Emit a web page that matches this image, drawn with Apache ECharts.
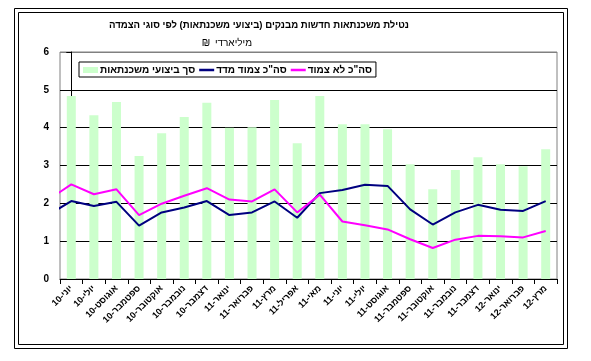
<!DOCTYPE html>
<html><head><meta charset="utf-8">
<script src="https://cdn.jsdelivr.net/npm/echarts@6/dist/echarts.min.js"></script>
<style>html,body{margin:0;padding:0;background:#fff}#c{width:591px;height:361px}</style>
</head><body><div id="c"></div>
<script>
const titleText = 'נטילת משכנתאות חדשות מבנקים (ביצועי משכנתאות) לפי סוגי הצמדה';
const subtitleWord = 'מיליארדי';
const subtitleUnit = '₪';
const categories = ['יוני-10','יולי-10','אוגוסט-10','ספטמבר-10','אוקטובר-10','נובמבר-10','דצמבר-10','ינואר-11','פברואר-11','מרץ-11','אפריל-11','מאי-11','יוני-11','יולי-11','אוגוסט-11','ספטמבר-11','אוקטובר-11','נובמבר-11','דצמבר-11','ינואר-12','פברואר-12','מרץ-12'];
const yTicks = [0,1,2,3,4,5,6];
const seriesNames = ['סך ביצועי משכנתאות','סה"כ צמוד מדד','סה"כ לא צמוד'];
const totalValues = [4.84,4.33,4.68,3.25,3.85,4.28,4.66,4.00,4.01,4.73,3.59,4.84,4.09,4.09,3.96,3.03,2.37,2.88,3.22,3.03,2.98,3.43];
// line values; the first entry is the preceding month, only its segment at the left edge is visible
const linkedValues = [1.70,2.06,1.93,2.04,1.41,1.76,1.89,2.06,1.69,1.76,2.05,1.62,2.27,2.35,2.49,2.46,1.84,1.44,1.76,1.96,1.83,1.80,2.06];
const unlinkedValues = [2.10,2.50,2.24,2.37,1.69,1.99,2.20,2.40,2.10,2.05,2.37,1.76,2.23,1.52,1.42,1.31,1.05,0.82,1.04,1.14,1.13,1.10,1.27];

const toXY = arr => arr.map((v,i)=>[i-1,v]);
const FONT = 'Arial, "Liberation Sans", "DejaVu Sans", sans-serif';
const chart = echarts.init(document.getElementById('c'), null, {renderer:'canvas'});
chart.setOption({
  animation:false,
  backgroundColor:'#fff',
  graphic:[
    {type:'rect', shape:{x:14.5,y:8.5,width:553,height:340}, style:{fill:'none',stroke:'#000',lineWidth:1}, silent:true},
    {type:'rect', shape:{x:18.5,y:12.5,width:545,height:332}, style:{fill:'none',stroke:'#000',lineWidth:1}, silent:true},
    {type:'text', x:259, y:25, style:{text:titleText, align:'center', verticalAlign:'middle', font:'bold 9.6px '+FONT, fill:'#000'}},
    {type:'text', x:252, y:43, style:{text:subtitleWord, align:'right', verticalAlign:'middle', font:'10px '+FONT, fill:'#000'}},
    {type:'text', x:206, y:43, style:{text:subtitleUnit, align:'center', verticalAlign:'middle', font:'10px '+FONT, fill:'#000'}}
  ],
  legend:{
    show:true, left:79, top:62, orient:'horizontal',
    padding:[3,4,2,4], itemGap:4, itemWidth:15, itemHeight:6,
    borderColor:'#000', borderWidth:1, backgroundColor:'#fff',
    textStyle:{fontFamily:FONT, fontSize:10, fontWeight:'bold', color:'#000', padding:[0,0,0,-3]},
    data:[
      {name:seriesNames[0], icon:'rect'},
      {name:seriesNames[1], icon:'path://M0,0H12V2H0Z'},
      {name:seriesNames[2], icon:'path://M0,0H12V2H0Z'}
    ]
  },
  grid:{left:60, top:52, right:34, bottom:82, show:true, borderColor:'#808080', borderWidth:1, backgroundColor:'#fff', containLabel:false},
  xAxis:[
    {type:'category', data:categories, boundaryGap:true,
     axisLine:{lineStyle:{color:'#000',width:1}},
     axisTick:{show:true, length:5, inside:false, lineStyle:{color:'#000'}},
     axisLabel:{rotate:45, interval:0, fontFamily:FONT, fontSize:9, fontWeight:'bold', color:'#000', margin:8},
     splitLine:{show:false}},
    {type:'value', min:-0.5, max:21.5, show:false, splitLine:{show:false}}
  ],
  yAxis:{type:'value', min:yTicks[0], max:yTicks[yTicks.length-1], interval:1,
    axisLine:{show:true, lineStyle:{color:'#000',width:1}},
    axisTick:{show:true, length:5, lineStyle:{color:'#000'}},
    axisLabel:{fontFamily:FONT, fontSize:10, fontWeight:'bold', color:'#000', margin:11},
    splitLine:{show:true, lineStyle:{color:['#000','#000','#000','#000','#000','#000','#808080'], width:1}}
  },
  series:[
    {name:seriesNames[0], type:'bar', data:totalValues, barWidth:9, itemStyle:{color:'#CCFFCC'}, xAxisIndex:0, z:2},
    {name:seriesNames[1], type:'line', data:toXY(linkedValues), xAxisIndex:1, clip:true, symbol:'none', lineStyle:{color:'#000080', width:2}, itemStyle:{color:'#000080'}, z:3},
    {name:seriesNames[2], type:'line', data:toXY(unlinkedValues), xAxisIndex:1, clip:true, symbol:'none', lineStyle:{color:'#FF00FF', width:2}, itemStyle:{color:'#FF00FF'}, z:3}
  ]
});
</script></body></html>
